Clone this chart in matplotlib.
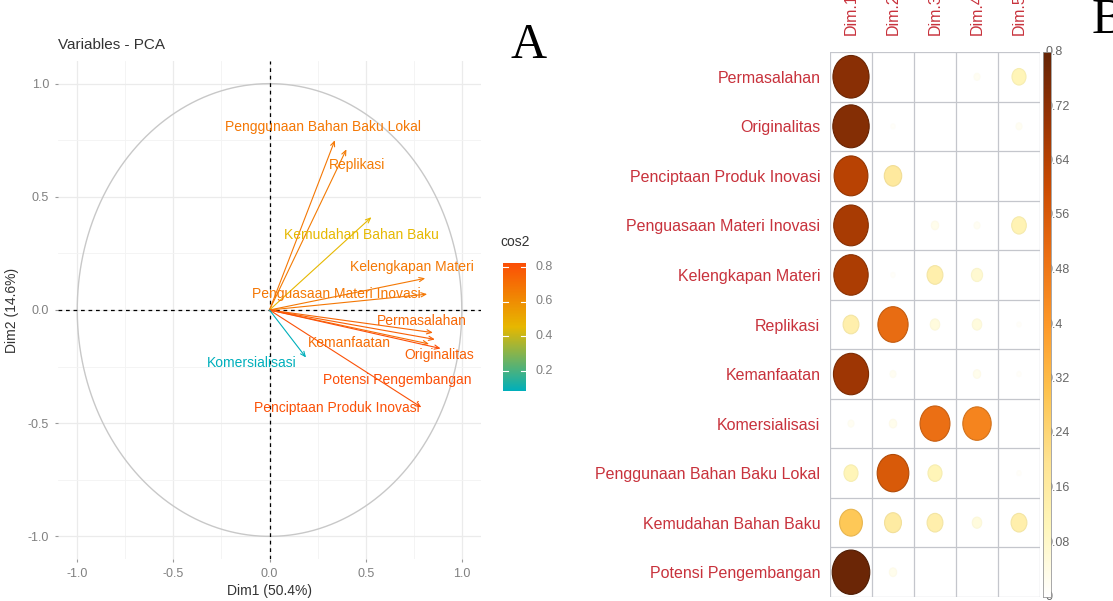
import numpy as np
import matplotlib.pyplot as plt
from matplotlib.colors import LinearSegmentedColormap, Normalize
from matplotlib.patches import Ellipse

plt.rcParams['font.family'] = ['Liberation Sans', 'DejaVu Sans']

W, H = 1113, 601

# --- PCA variable coordinates on Dim1 / Dim2 ---
pca_vars = ['Penggunaan Bahan Baku Lokal', 'Replikasi', 'Kemudahan Bahan Baku',
            'Kelengkapan Materi', 'Penguasaan Materi Inovasi', 'Permasalahan',
            'Kemanfaatan', 'Originalitas', 'Potensi Pengembangan',
            'Penciptaan Produk Inovasi', 'Komersialisasi']
dim1_coord = [0.34, 0.40, 0.53, 0.81, 0.82, 0.85, 0.83, 0.86, 0.89, 0.79, 0.19]
dim2_coord = [0.75, 0.71, 0.41, 0.14, 0.07, -0.10, -0.15, -0.13, -0.17, -0.43, -0.21]
# where the (repelled) labels ended up
label_x = [0.276, 0.453, 0.479, 0.74, 0.349, 0.79, 0.417, 0.885, 0.667, 0.349, -0.094]
label_y = [0.81, 0.642, 0.332, 0.19, 0.071, -0.049, -0.146, -0.20, -0.31, -0.434, -0.235]
pc1_label = 'Dim1 (50.4%)'
pc2_label = 'Dim2 (14.6%)'
axis_ticks = [-1.0, -0.5, 0.0, 0.5, 1.0]
cos2_ticks = [0.2, 0.4, 0.6, 0.8]

# --- cos2 of each variable on the first five dimensions ---
cos2_rows = ['Permasalahan', 'Originalitas', 'Penciptaan Produk Inovasi',
             'Penguasaan Materi Inovasi', 'Kelengkapan Materi', 'Replikasi',
             'Kemanfaatan', 'Komersialisasi', 'Penggunaan Bahan Baku Lokal',
             'Kemudahan Bahan Baku', 'Potensi Pengembangan']
dim_names = ['Dim.1', 'Dim.2', 'Dim.3', 'Dim.4', 'Dim.5']
cos2_dim1 = [0.73, 0.74, 0.64, 0.67, 0.66, 0.14, 0.69, 0.02, 0.11, 0.29, 0.79]
cos2_dim2 = [0.00, 0.01, 0.17, 0.00, 0.01, 0.51, 0.02, 0.03, 0.56, 0.16, 0.03]
cos2_dim3 = [0.00, 0.00, 0.00, 0.03, 0.14, 0.05, 0.00, 0.50, 0.11, 0.14, 0.00]
cos2_dim4 = [0.02, 0.00, 0.00, 0.02, 0.07, 0.05, 0.03, 0.45, 0.00, 0.05, 0.00]
cos2_dim5 = [0.11, 0.02, 0.00, 0.12, 0.00, 0.01, 0.01, 0.00, 0.01, 0.14, 0.00]
corr_ticks = [0, 0.08, 0.16, 0.24, 0.32, 0.4, 0.48, 0.56, 0.64, 0.72, 0.8]


def fx(px):
    return px / W


def fy(py):
    return 1 - py / H


fig = plt.figure(figsize=(W / 100, H / 100), dpi=100)

# ================= A: variables factor map =================
x1 = np.array(dim1_coord)
x2 = np.array(dim2_coord)
cos2 = x1 ** 2 + x2 ** 2
pca_cmap = LinearSegmentedColormap.from_list('cos2', ['#00AFBB', '#E7B800', '#FC4E07'])
pca_norm = Normalize(cos2.min(), cos2.max())

ax = fig.add_axes([fx(58), fy(559), (481 - 58) / W, (559 - 61) / H])
ax.set_xlim(-1.1, 1.1)
ax.set_ylim(-1.1, 1.1)
ax.set_xticks(axis_ticks)
ax.set_yticks(axis_ticks)
ax.set_xticklabels([f'{t:.1f}' for t in axis_ticks])
ax.set_yticklabels([f'{t:.1f}' for t in axis_ticks])
ax.set_xticks([-0.75, -0.25, 0.25, 0.75], minor=True)
ax.set_yticks([-0.75, -0.25, 0.25, 0.75], minor=True)
ax.grid(which='major', color='#EBEBEB', lw=0.9, zorder=0)
ax.grid(which='minor', color='#F3F3F3', lw=0.6, zorder=0)
ax.tick_params(which='major', length=2.5, color='#999999', labelcolor='#808080',
               labelsize=9, pad=4)
ax.tick_params(which='minor', length=0)
for s in ax.spines.values():
    s.set_visible(False)
ax.set_axisbelow(True)

theta = np.linspace(0, 2 * np.pi, 400)
ax.plot(np.cos(theta), np.sin(theta), color='#C8C8C8', lw=1.0, zorder=1)
ax.axhline(0, color='black', lw=0.9, ls=(0, (3, 3)), zorder=2)
ax.axvline(0, color='black', lw=0.9, ls=(0, (3, 3)), zorder=2)

for i, name in enumerate(pca_vars):
    c = pca_cmap(pca_norm(cos2[i]))
    ax.annotate('', xy=(x1[i], x2[i]), xytext=(0, 0),
                arrowprops=dict(arrowstyle='->,head_length=0.35,head_width=0.15',
                                color=c, lw=0.8, shrinkA=0, shrinkB=0), zorder=3)
    ax.text(label_x[i], label_y[i], name, color=c, fontsize=10,
            ha='center', va='center', zorder=4)

ax.set_xlabel(pc1_label, fontsize=10, color='#333333', labelpad=3)
ax.set_ylabel(pc2_label, fontsize=10, color='#333333', labelpad=6)
fig.text(fx(58), fy(45), 'Variables - PCA', fontsize=11, color='#333333',
         ha='left', va='center')

# cos2 colour bar
def cb_py(v):
    return 267 - (v - 0.8) * 172.5

top, bot = cb_py(cos2.max()), cb_py(cos2.min())
cax = fig.add_axes([fx(503), fy(bot), 23 / W, (bot - top) / H])
grad = np.linspace(cos2.min(), cos2.max(), 256).reshape(-1, 1)
cax.imshow(grad, cmap=pca_cmap, norm=pca_norm, aspect='auto', origin='lower',
           extent=[0, 1, cos2.min(), cos2.max()])
cax.set_xlim(0, 1)
cax.set_ylim(cos2.min(), cos2.max())
cax.set_xticks([])
cax.set_yticks([])
for s in cax.spines.values():
    s.set_visible(False)
for t in cos2_ticks:
    cax.plot([0, 0.2], [t, t], color='white', lw=0.8)
    cax.plot([0.8, 1], [t, t], color='white', lw=0.8)
    fig.text(fx(535), fy(cb_py(t)), f'{t:.1f}', fontsize=9, color='#808080',
             ha='left', va='center')
fig.text(fx(500), fy(242), 'cos2', fontsize=10, color='#333333', ha='left', va='center')

fig.text(fx(529), fy(46), 'A', fontsize=36, family='Liberation Serif',
         ha='center', va='center')

# ================= B: cos2 correlation-style plot =================
cos2_mat = np.column_stack([cos2_dim1, cos2_dim2, cos2_dim3, cos2_dim4, cos2_dim5])
corr_cmap = LinearSegmentedColormap.from_list(
    'ylorbr', [(0, '#FFFFFF'), (0.125, '#FFF7BC'), (0.25, '#FEE391'),
               (0.375, '#FEC44F'), (0.5, '#FE9929'), (0.625, '#EC7014'),
               (0.75, '#CC4C02'), (0.875, '#993404'), (1.0, '#662506')])
corr_norm = Normalize(0, 0.8)
nrow, ncol = cos2_mat.shape

bx = fig.add_axes([fx(830), fy(597), 210 / W, 545 / H])
bx.set_xlim(0, ncol)
bx.set_ylim(nrow, 0)
for i in range(nrow):
    for j in range(ncol):
        v = cos2_mat[i, j]
        if v <= 0:
            continue
        d = 0.9 * np.sqrt(v / 0.8)
        fc = np.array(corr_cmap(corr_norm(v)))
        ec = fc.copy()
        # darker rim only on the stronger circles
        ec[:3] *= 1 - 0.25 * min(v / 0.8, 1)
        bx.add_patch(Ellipse((j + 0.5, i + 0.5), d, d, facecolor=fc,
                             edgecolor=ec, lw=0.8, zorder=2))
for k in range(nrow + 1):
    bx.axhline(k, color='#C4C6CC', lw=0.9, zorder=1)
for k in range(ncol + 1):
    bx.axvline(k, color='#C4C6CC', lw=0.9, zorder=1)
for s in bx.spines.values():
    s.set_visible(False)
bx.set_yticks(np.arange(nrow) + 0.5)
bx.set_yticklabels(cos2_rows, fontsize=11.5, color='#C8323C')
bx.set_xticks(np.arange(ncol) + 0.5)
bx.set_xticklabels(dim_names, fontsize=11.5, color='#C8323C', rotation=90)
bx.xaxis.tick_top()
bx.tick_params(axis='y', length=0, pad=7)
bx.tick_params(axis='x', length=0, pad=12)

# colour legend for panel B
def corr_py(v):
    return 597 - v / 0.8 * 545

for t in corr_ticks:
    fig.text(fx(1046), fy(corr_py(t)), f'{t:g}', fontsize=9, color='#666666',
             ha='left', va='center')
kax = fig.add_axes([fx(1043), fy(597), 8 / W, 545 / H])
kax.set_zorder(5)
kgrad = np.linspace(0, 0.8, 256).reshape(-1, 1)
kax.imshow(kgrad, cmap=corr_cmap, norm=corr_norm, aspect='auto', origin='lower',
           extent=[0, 1, 0, 0.8])
kax.set_xticks([])
kax.set_yticks([])
for s in kax.spines.values():
    s.set_edgecolor('#999999')
    s.set_linewidth(0.6)

fig.text(fx(1092), fy(21), 'B', fontsize=36, family='Liberation Serif',
         ha='left', va='center')

fig.savefig('out.png', dpi=100)
